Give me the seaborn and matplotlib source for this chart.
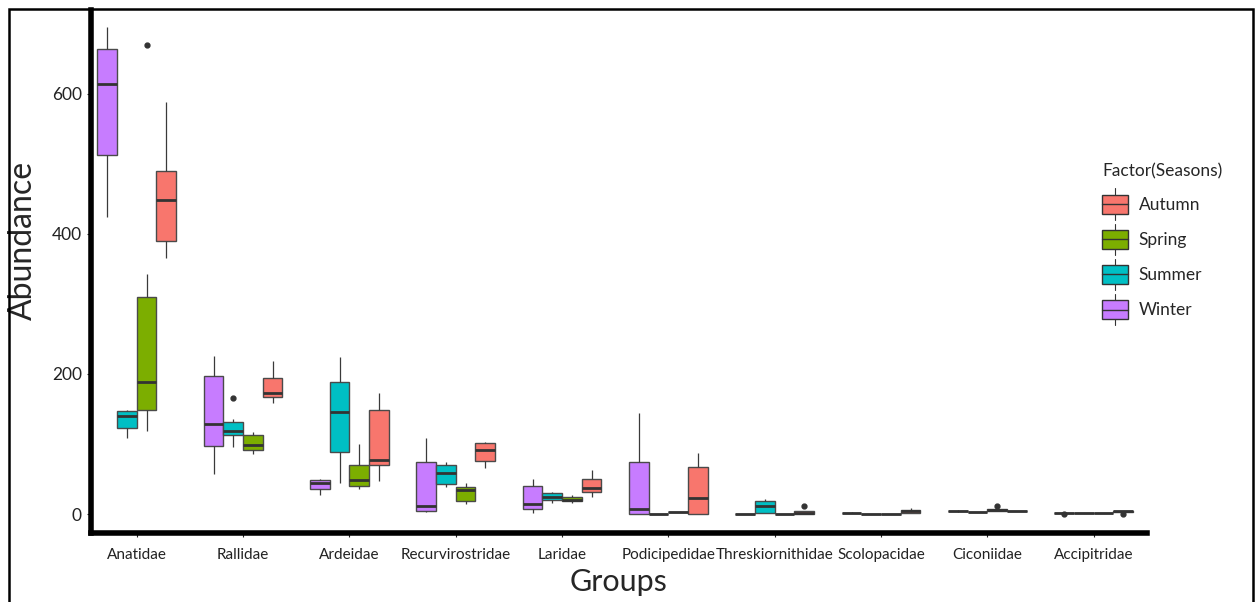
import pandas as pd
import matplotlib.pyplot as plt
import seaborn as sns
from matplotlib.patches import Rectangle, Patch
from matplotlib.lines import Line2D
from matplotlib.legend_handler import HandlerBase

# 그룹과 계절
groups = ['Anatidae', 'Rallidae', 'Ardeidae', 'Recurvirostridae', 'Laridae',
          'Podicipedidae', 'Threskiornithidae', 'Scolopacidae', 'Ciconiidae',
          'Accipitridae']
season_order = ['Winter', 'Summer', 'Spring', 'Autumn']
legend_order = ['Autumn', 'Spring', 'Summer', 'Winter']
season_colors = {'Autumn': '#F8766D', 'Spring': '#7CAE00',
                 'Summer': '#00BFC4', 'Winter': '#C77CFF'}

# 계절별 관측값 (그룹 순서대로)
winter = [[424, 512, 614, 664, 695], [57, 97, 128, 197, 225], [27, 36, 44, 48, 50],
          [3, 5, 11, 74, 108], [1, 7, 15, 40, 50], [0, 0, 7, 74, 144],
          [0, 0, 0, 0, 0], [1, 1, 1, 2, 3], [3, 4, 4, 5, 6], [0, 2, 2, 2, 2, 2]]
summer = [[109, 123, 140, 147, 148], [96, 100, 113, 116, 119, 125, 132, 136, 165],
          [45, 88, 146, 188, 224], [38, 43, 58, 70, 74], [16, 20, 25, 30, 32],
          [0, 0, 0, 0, 0], [1, 2, 11, 19, 22], [0, 0, 0, 0, 0], [3, 3, 3, 3, 3],
          [2, 2, 2, 2, 2]]
spring = [[118, 130, 148, 170, 189, 250, 310, 342, 669], [86, 91, 98, 113, 117],
          [36, 40, 48, 70, 100], [14, 18, 34, 38, 44], [16, 18, 20, 24, 27],
          [3, 3, 3, 3, 3], [0, 0, 0, 0, 0], [0, 0, 0, 0, 0],
          [4, 5, 5, 6, 6, 6, 7, 7, 11], [2, 2, 2, 2, 2]]
autumn = [[365, 390, 448, 490, 588], [158, 167, 173, 194, 219], [47, 70, 77, 148, 173],
          [66, 76, 92, 101, 103], [24, 31, 37, 50, 63], [0, 0, 23, 67, 87],
          [0, 0, 0, 1, 1, 3, 4, 4, 12], [2, 2, 4, 6, 8], [4, 4, 4, 4, 4],
          [0, 3, 3, 3, 4, 4, 4, 4, 4]]

# long-form 데이터 만들기
rows = []
for season, values in zip(['Winter', 'Summer', 'Spring', 'Autumn'],
                          [winter, summer, spring, autumn]):
    for g, obs in zip(groups, values):
        for v in obs:
            rows.append({'Groups': g, 'Abundance': v, 'Season': season})
df = pd.DataFrame(rows)

sns.set_style('white')
plt.rcParams['font.family'] = ['Lato', 'DejaVu Sans']


class BoxHandler(HandlerBase):
    # ggplot 스타일 범례 박스
    def create_artists(self, legend, orig_handle, xdescent, ydescent,
                       width, height, fontsize, trans):
        cx = width / 2 - xdescent
        box = Rectangle((-xdescent, -ydescent + height * 0.05), width, height * 0.9,
                        facecolor=orig_handle.get_facecolor(), edgecolor='#333333',
                        linewidth=1, transform=trans)
        med = Line2D([-xdescent, width - xdescent], [height / 2 - ydescent] * 2,
                     color='#333333', linewidth=1, transform=trans)
        top = Line2D([cx, cx], [height * 0.95 - ydescent, height * 1.25 - ydescent],
                     color='#333333', linewidth=0.8, transform=trans)
        bot = Line2D([cx, cx], [-ydescent - height * 0.25, height * 0.05 - ydescent],
                     color='#333333', linewidth=0.8, transform=trans)
        return [top, bot, box, med]


fig = plt.figure(figsize=(12.59, 6.02), dpi=100)
ax = fig.add_axes([0.0723, 0.1146, 0.8387, 0.8684])

sns.boxplot(data=df, x='Groups', y='Abundance', hue='Season',
            order=groups, hue_order=season_order, palette=season_colors,
            saturation=1, width=0.74, gap=0, linecolor='#4a4a4a', linewidth=1,
            fliersize=3.5, legend=False, ax=ax,
            whiskerprops={'linewidth': 0.9, 'color': '#3a3a3a'},
            capprops={'linewidth': 0},
            medianprops={'linewidth': 2, 'color': '#333333'},
            flierprops={'marker': 'o', 'markerfacecolor': '#333333',
                        'markeredgecolor': '#333333'})

ax.set_xlim(-0.43, 9.5)
ax.set_ylim(-27, 719)
ax.set_yticks([0, 200, 400, 600])
ax.tick_params(axis='both', labelsize=12.5, colors='#222222', length=3,
               width=0.8, direction='out', left=True, bottom=True)
ax.tick_params(axis='x', labelsize=11, pad=8)
ax.set_xlabel('Groups', fontsize=22, labelpad=4)
ax.set_ylabel('Abundance', fontsize=23)
ax.yaxis.set_label_coords(-0.05, 0.56)

sns.despine(ax=ax)
for side in ['left', 'bottom']:
    ax.spines[side].set_linewidth(4)
    ax.spines[side].set_color('black')

handles = [Patch(facecolor=season_colors[s]) for s in legend_order]
fig.legend(handles, legend_order, title='Factor(Seasons)', frameon=False,
           loc='upper left', bbox_to_anchor=(0.8753, 0.728), borderaxespad=0,
           borderpad=0, alignment='left',
           handler_map={Patch: BoxHandler()}, fontsize=12.5, title_fontsize=12.5,
           handlelength=1.5, handleheight=1.5, labelspacing=0.8, handletextpad=0.6)

# 바깥 테두리
fig.patches.append(Rectangle((0.0071, -0.05), 0.988, 1.035, transform=fig.transFigure,
                             fill=False, edgecolor='black', linewidth=1.8))

plt.savefig('out.png', dpi=100)
